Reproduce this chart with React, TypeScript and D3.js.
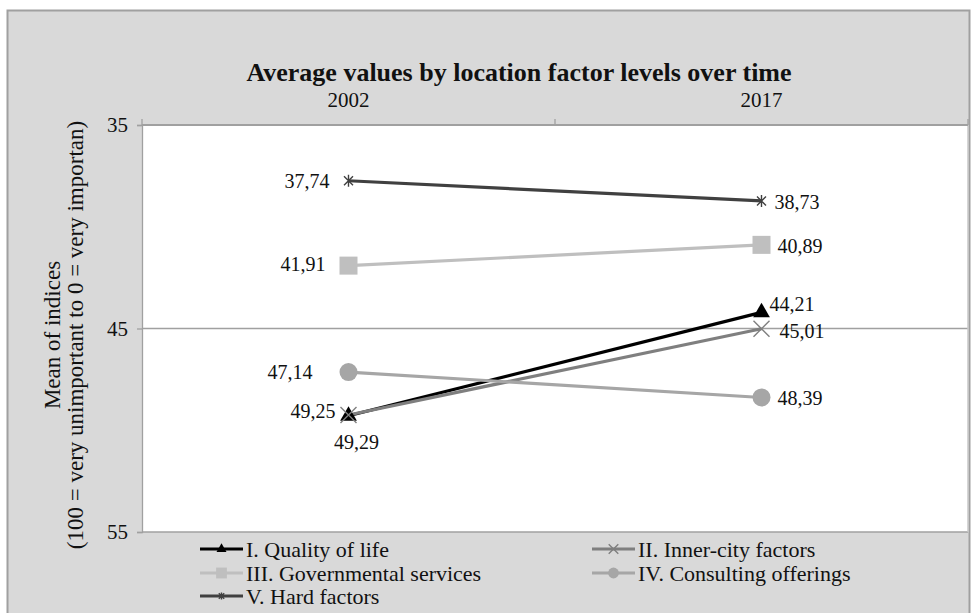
import React, { useEffect, useRef } from 'react';
import * as d3 from 'd3';

const years = ['2002', '2017'];
const seriesNames = [
  'I. Quality of life',
  'II. Inner-city factors',
  'III. Governmental services',
  'IV. Consulting offerings',
  'V. Hard factors',
];
const quality = [49.29, 44.21];
const innerCity = [49.25, 45.01];
const governmental = [41.91, 40.89];
const consulting = [47.14, 48.39];
const hard = [37.74, 38.73];
const yTicks = [35, 45, 55];

const W = 973, H = 613;
const font = "'Liberation Serif'";

export default function App() {
  const ref = useRef<SVGSVGElement>(null);

  useEffect(() => {
    const svg = d3.select(ref.current);
    svg.selectAll('*').remove();

    const margin = { top: 125, right: 5, bottom: 81, left: 142 };
    const w = W - margin.left - margin.right;
    const h = H - margin.top - margin.bottom;

    // chart background
    svg.append('rect').attr('x', 7.5).attr('y', 10.5).attr('width', 962).attr('height', 610)
      .attr('fill', '#d9d9d9').attr('stroke', '#a0a0a0').attr('stroke-width', 2);

    const g = svg.append('g').attr('transform', `translate(${margin.left},${margin.top})`);
    g.append('rect').attr('width', w).attr('height', h).attr('fill', '#fff');

    const x = d3.scaleBand().domain(years).range([0, w]);
    const y = d3.scaleLinear().domain([35, 55]).range([0, h]);

    // gridlines
    g.selectAll('.grid').data(yTicks).join('line').attr('class', 'grid')
      .attr('x1', 0).attr('x2', w).attr('y1', d => y(d)).attr('y2', d => y(d))
      .attr('stroke', '#a0a0a0').attr('stroke-width', 1.3);
    g.append('line').attr('x1', w).attr('x2', w).attr('y1', 0).attr('y2', h)
      .attr('stroke', '#c8c8c8').attr('stroke-width', 1.5);

    // left axis
    const yAxis = g.append('g').call(d3.axisLeft(y).tickValues(yTicks).tickSize(5).tickPadding(9));
    yAxis.select('.domain').attr('stroke', '#a0a0a0').attr('stroke-width', 1.3);
    yAxis.selectAll('.tick line').attr('stroke', '#a0a0a0').attr('stroke-width', 1.3);
    yAxis.selectAll('text').style('font-family', font).style('font-size', '21px').attr('fill', '#111');

    // top axis
    const xAxis = g.append('g').call(d3.axisTop(x).tickSize(0).tickPadding(18));
    xAxis.select('.domain').remove();
    xAxis.selectAll('text').style('font-family', font).style('font-size', '21px').attr('fill', '#111');
    const bounds = [0, w / 2, w];
    g.selectAll('.xt').data(bounds).join('line').attr('class', 'xt')
      .attr('x1', d => d).attr('x2', d => d).attr('y1', 0).attr('y2', -6)
      .attr('stroke', '#a0a0a0').attr('stroke-width', 1.3);
    g.append('line').attr('x1', 0).attr('x2', w).attr('y1', 0).attr('y2', 0)
      .attr('stroke', '#a0a0a0').attr('stroke-width', 2);

    // title
    svg.append('text').attr('x', 519).attr('y', 81).attr('text-anchor', 'middle')
      .style('font-family', font).style('font-weight', 'bold').style('font-size', '26px')
      .attr('fill', '#111').text('Average values by location factor levels over time');

    // y title
    const yt = svg.append('text').attr('transform', 'translate(0,335) rotate(-90)')
      .attr('text-anchor', 'middle').style('font-family', font).style('font-size', '23px').attr('fill', '#111');
    yt.append('tspan').attr('x', 0).attr('y', 60).text('Mean of indices');
    yt.append('tspan').attr('x', 0).attr('y', 83).text('(100 = very unimportant to 0 = very importan)');

    // label placement per point: [anchor, dx, dy]
    const series = [
      { name: seriesNames[0], values: quality, color: '#000000', marker: 'triangle', lab: [['middle', 8, 26], ['start', 8, -8]] },
      { name: seriesNames[1], values: innerCity, color: '#7f7f7f', marker: 'x', lab: [['end', -13, -4], ['start', 18, 2]] },
      { name: seriesNames[2], values: governmental, color: '#bfbfbf', marker: 'square', lab: [['end', -23, -2], ['start', 16, 1]] },
      { name: seriesNames[3], values: consulting, color: '#a6a6a6', marker: 'circle', lab: [['end', -36, 0], ['start', 16, 1]] },
      { name: seriesNames[4], values: hard, color: '#404040', marker: 'star', lab: [['end', -19, 0], ['start', 13, 1]] },
    ];

    const drawMarker = (sel: any, m: string, c: string, s: number) => {
      if (m === 'triangle') sel.append('path').attr('d', d3.symbol(d3.symbolTriangle, 1.5 * s * s)()).attr('fill', c);
      else if (m === 'square') sel.append('rect').attr('x', -s).attr('y', -s).attr('width', 2 * s).attr('height', 2 * s).attr('fill', c);
      else if (m === 'circle') sel.append('circle').attr('r', s).attr('fill', c);
      else if (m === 'x') sel.append('path').attr('d', `M${-s},${-s}L${s},${s}M${-s},${s}L${s},${-s}`).attr('stroke', c).attr('stroke-width', 1.4);
      else {
        const r = s * 0.75;
        sel.append('path').attr('d', `M${-r},${-r}L${r},${r}M${-r},${r}L${r},${-r}M0,${-s}L0,${s}`).attr('stroke', c).attr('stroke-width', 1.4);
      }
    };
    const sizes: Record<string, number> = { triangle: 9, square: 9, circle: 9, x: 8, star: 6 };

    const cx = (d: string) => (x(d) as number) + x.bandwidth() / 2;
    const line = d3.line<number>().x((_, i) => cx(years[i])).y(d => y(d));

    series.forEach(s => {
      g.append('path').datum(s.values).attr('d', line).attr('fill', 'none')
        .attr('stroke', s.color).attr('stroke-width', 3.2);
    });
    series.forEach(s => {
      s.values.forEach((v, i) => {
        const mg = g.append('g').attr('transform', `translate(${cx(years[i])},${y(v)})`);
        drawMarker(mg, s.marker, s.color, sizes[s.marker]);
      });
    });
    series.forEach(s => {
      s.values.forEach((v, i) => {
        const [anchor, dx, dy] = s.lab[i] as [string, number, number];
        g.append('text').attr('x', cx(years[i]) + dx).attr('y', y(v) + dy)
          .attr('dy', '0.35em').attr('text-anchor', anchor)
          .style('font-family', font).style('font-size', '20px').attr('fill', '#111')
          .text(v.toFixed(2).replace('.', ','));
      });
    });

    // legend
    const cols = [200, 592];
    const rows = [549, 573, 596];
    series.forEach((s, i) => {
      const lx = cols[i % 2], ly = rows[Math.floor(i / 2)];
      const lg = svg.append('g').attr('transform', `translate(${lx},${ly})`);
      lg.append('line').attr('x1', 0).attr('x2', 43).attr('stroke', s.color).attr('stroke-width', 3.2);
      const mg = lg.append('g').attr('transform', 'translate(21.5,0)');
      drawMarker(mg, s.marker, s.color, sizes[s.marker] * 0.6);
      lg.append('text').attr('x', 46).attr('dy', '0.35em').style('font-family', font)
        .style('font-size', '22px').attr('fill', '#111').text(s.name);
    });
  }, []);

  return (
    <svg ref={ref} width={W} height={H} style={{ position: 'absolute', left: 0, top: 0 }} />
  );
}
